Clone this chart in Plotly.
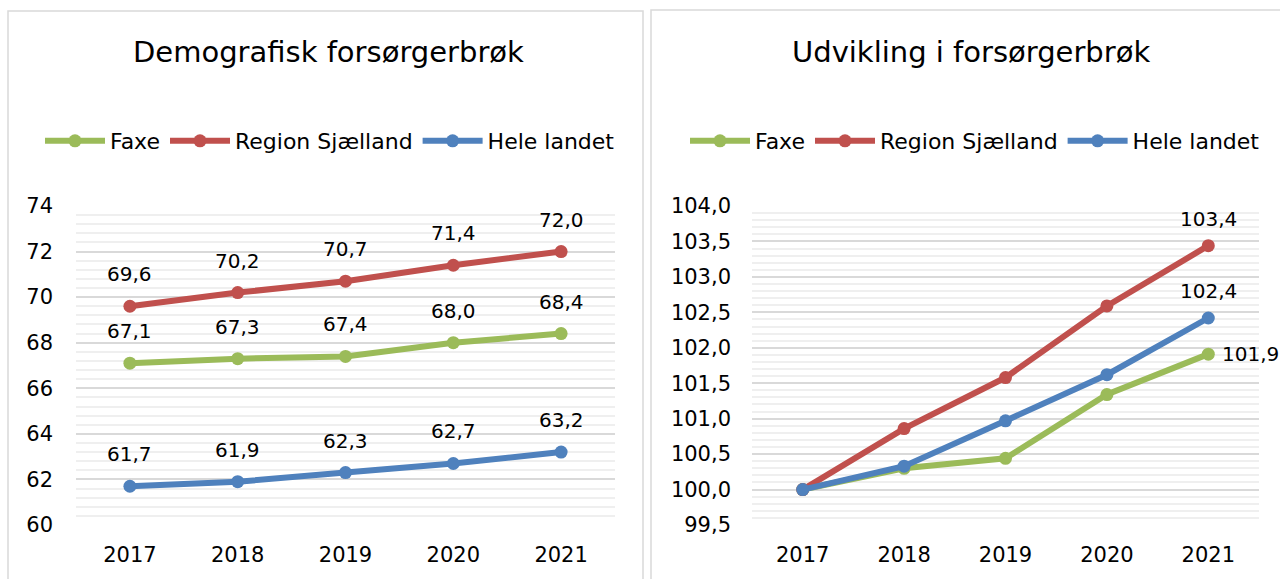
import plotly.graph_objects as go

years = [2017, 2018, 2019, 2020, 2021]
year_labels = ["2017", "2018", "2019", "2020", "2021"]
series_names = ["Faxe", "Region Sjælland", "Hele landet"]
colors = ["#9BBB59", "#C0504D", "#4F81BD"]

# Left chart: demographic dependency ratio
faxe_level = [67.1, 67.3, 67.4, 68.0, 68.4]
region_level = [69.6, 70.2, 70.7, 71.4, 72.0]
land_level = [61.7, 61.9, 62.3, 62.7, 63.2]

# Right chart: index (2017 = 100)
faxe_index = [100.0, 100.30, 100.44, 101.34, 101.91]
region_index = [100.0, 100.86, 101.58, 102.59, 103.44]
land_index = [100.0, 100.33, 100.97, 101.62, 102.42]

left_ticks = [60, 62, 64, 66, 68, 70, 72, 74]
right_ticks = [99.5, 100.0, 100.5, 101.0, 101.5, 102.0, 102.5, 103.0, 103.5, 104.0]

FONT = "DejaVu Sans, sans-serif"
W, H = 1280, 579

fig = go.Figure()

left = [faxe_level, region_level, land_level]
right = [faxe_index, region_index, land_index]

for name, col, vals in zip(series_names, colors, left):
    fig.add_trace(go.Scatter(x=years, y=vals, name=name, mode="lines+markers",
                             line=dict(color=col, width=6), marker=dict(color=col, size=13),
                             xaxis="x", yaxis="y", legend="legend", hoverinfo="skip"))
for name, col, vals in zip(series_names, colors, right):
    fig.add_trace(go.Scatter(x=years, y=vals, name=name, mode="lines+markers",
                             line=dict(color=col, width=6), marker=dict(color=col, size=13),
                             xaxis="x2", yaxis="y2", legend="legend2", hoverinfo="skip"))

def fmt(v):
    return f"{v:.1f}".replace(".", ",")

lab_font = dict(size=20, color="#000000", family=FONT)
annotations = []
for vals in left:
    for x, v in zip(years, vals):
        annotations.append(dict(x=x, y=v, xref="x", yref="y", text=fmt(v), showarrow=False,
                                yshift=32, font=lab_font))
# right chart: labels only at last point
for i, vals in enumerate(right):
    if series_names[i] == "Faxe":
        annotations.append(dict(x=years[-1], y=vals[-1], xref="x2", yref="y2", text=fmt(vals[-1]),
                                showarrow=False, xanchor="left", xshift=12, font=lab_font))
    else:
        annotations.append(dict(x=years[-1], y=vals[-1], xref="x2", yref="y2", text=fmt(vals[-1]),
                                showarrow=False, yshift=27, font=lab_font))

title_font = dict(size=29, color="#000000", family=FONT)
annotations.append(dict(x=328 / W, y=1 - 52 / H, xref="paper", yref="paper", text="Demografisk forsørgerbrøk",
                        showarrow=False, xanchor="center", yanchor="middle", font=title_font))
annotations.append(dict(x=971 / W, y=1 - 52 / H, xref="paper", yref="paper", text="Udvikling i forsørgerbrøk",
                        showarrow=False, xanchor="center", yanchor="middle", font=title_font))

shapes = [
    dict(type="rect", xref="paper", yref="paper", x0=8 / W, x1=643 / W, y0=-0.05, y1=1 - 11 / H,
         line=dict(color="#d9d9d9", width=1.5), fillcolor="rgba(0,0,0,0)", layer="below"),
    dict(type="rect", xref="paper", yref="paper", x0=651 / W, x1=1.05, y0=-0.05, y1=1 - 10 / H,
         line=dict(color="#d9d9d9", width=1.5), fillcolor="rgba(0,0,0,0)", layer="below"),
]

axis_font = dict(size=21, color="#000000", family=FONT)
ydom = [(H - 525) / H, (H - 206) / H]
leg_font = dict(size=22, color="#000000", family=FONT)

fig.update_layout(
    width=W, height=H, autosize=False, margin=dict(l=0, r=0, t=0, b=0, pad=0, autoexpand=False),
    paper_bgcolor="white", plot_bgcolor="white",
    separators=",.",
    font=dict(family=FONT, color="#000000"),
    annotations=annotations, shapes=shapes,
    xaxis=dict(domain=[76 / W, 615 / W], range=[2016.5, 2021.5], tickvals=years, ticktext=year_labels,
               showgrid=False, showline=False, zeroline=False, ticks="", tickfont=axis_font,
               ticklabelstandoff=15, automargin=False),
    yaxis=dict(domain=ydom, range=[60, 74], tickvals=left_ticks, showgrid=True,
               gridcolor="#d9d9d9", gridwidth=1.5, zeroline=False, showline=False,
               tickfont=axis_font, ticklabelstandoff=22, automargin=False,
               minor=dict(dtick=0.4, tick0=60, showgrid=True, gridcolor="#efefef", gridwidth=1.5)),
    xaxis2=dict(domain=[752 / W, 1259 / W], range=[2016.5, 2021.5], tickvals=years, ticktext=year_labels,
                showgrid=False, showline=False, zeroline=False, ticks="", tickfont=axis_font,
                ticklabelstandoff=15, anchor="y2", automargin=False),
    yaxis2=dict(domain=ydom, range=[99.5, 104], tickvals=right_ticks, tickformat=".1f",
                showgrid=True, gridcolor="#d9d9d9", gridwidth=1.5, zeroline=False, showline=False,
                tickfont=axis_font, ticklabelstandoff=20, anchor="x2", automargin=False,
                minor=dict(dtick=0.1, tick0=99.5, showgrid=True, gridcolor="#efefef", gridwidth=1.5)),
    legend=dict(orientation="h", x=330 / W, xanchor="center", y=1 - 141 / H, yanchor="middle",
                font=leg_font, bgcolor="rgba(0,0,0,0)", itemwidth=60, tracegroupgap=0),
    legend2=dict(orientation="h", x=975 / W, xanchor="center", y=1 - 141 / H, yanchor="middle",
                 font=leg_font, bgcolor="rgba(0,0,0,0)", itemwidth=60, tracegroupgap=0),
    showlegend=True,
)

fig.write_html("out.html", config={"responsive": False, "displayModeBar": False},
               post_script="document.body.style.margin='0';document.body.style.overflow='hidden';")
